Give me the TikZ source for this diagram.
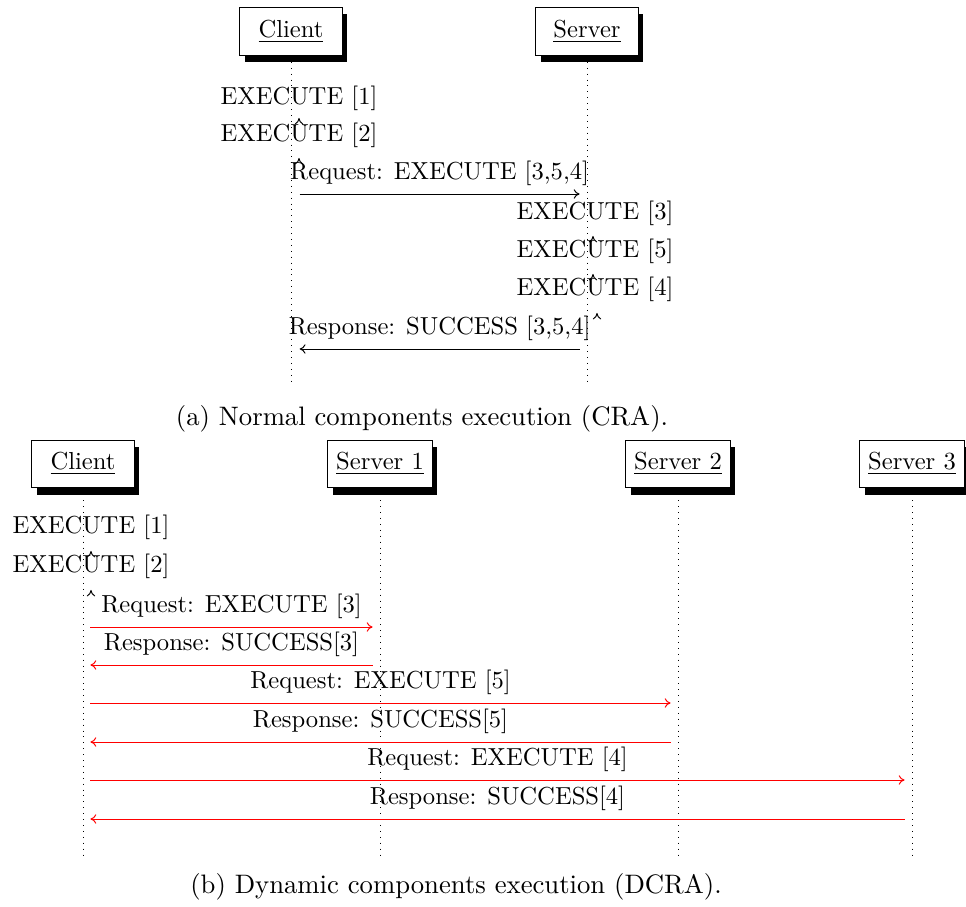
\documentclass[tikz,border=0pt]{standalone}
\usetikzlibrary{shadows,backgrounds,arrows.meta}

\tikzset{
  inst/.style={draw,fill=white,minimum width=41.5pt,minimum height=19.5pt,inner xsep=3.5pt,
    drop shadow={shadow xshift=2pt,shadow yshift=-2.8pt,fill=black,opacity=1}},
  life/.style={dotted},
  msg/.style={-{To[length=2.4pt,width=3.8pt]}},
  rmsg/.style={msg,red},
  tick/.style={-{To[length=2.6pt,width=3.4pt]}},
  captxt/.style={font=\fontsize{10.85}{13}\selectfont}
}

\begin{document}
\begin{tikzpicture}[x=0.4065pt,y=-0.4065pt]
  \useasboundingbox (0,0) rectangle (966,907);
  % (a) client / server
  \node[inst] (cl) at (291,31.5) {\underline{Client}};
  \node[inst] (sv) at (587,31.5) {\underline{Server}};
  \coordinate (clend) at (291,385);
  \coordinate (svend) at (587,385);
  \begin{scope}[on background layer]
    \draw[life] (cl) -- (clend);
    \draw[life] (sv) -- (svend);
  \end{scope}
  \node (ea1) at (299,98) {EXECUTE [1]};
  \node (ea2) at (299,135) {EXECUTE [2]};
  \foreach \y in {118,158} \draw[tick] (299,\y+2) -- (299,\y);
  \draw[msg] ([xshift=3.5pt]cl |- 0,194) -- node[above] (reqa) {Request: EXECUTE [3,5,4]} ([xshift=-3pt]sv |- 0,194);
  \node (ea3) at (595,213) {EXECUTE [3]};
  \node (ea5) at (595,251) {EXECUTE [5]};
  \node (ea4) at (595,289) {EXECUTE [4]};
  \foreach \x/\y in {593/236,593/274,597/313} \draw[tick] (\x,\y+2) -- (\x,\y);
  \draw[msg] ([xshift=-3pt]sv |- 0,349) -- node[above] (resa) {Response: SUCCESS [3,5,4]} ([xshift=3.5pt]cl |- 0,349);
  \node[captxt] (capa) at (422,419) {(a) Normal components execution (CRA).};

  % (b) client / three servers
  \node[inst] (clb) at (83,464) {\underline{Client}};
  \node[inst] (s1) at (380,464) {\underline{Server 1}};
  \node[inst] (s2) at (678,464) {\underline{Server 2}};
  \node[inst] (s3) at (912,464) {\underline{Server 3}};
  \foreach \n in {clb,s1,s2,s3}
    \coordinate (\n end) at (\n |- 0,855);
  \begin{scope}[on background layer]
    \foreach \n in {clb,s1,s2,s3}
      \draw[life] (\n) -- (\n end);
  \end{scope}
  \node (eb1) at (91,527) {EXECUTE [1]};
  \node (eb2) at (91,566) {EXECUTE [2]};
  \foreach \y in {551,590} \draw[tick] (91,\y+2) -- (91,\y);
  \foreach \s/\k/\yq/\yr in {s1/3/627/665,s2/5/703/742,s3/4/780/819} {
    \draw[rmsg] ([xshift=3pt]clb |- 0,\yq) -- node[above,text=black] {Request: EXECUTE [\k]} ([xshift=-3pt]\s |- 0,\yq);
    \draw[rmsg] ([xshift=-3pt]\s |- 0,\yr) -- node[above,text=black] {Response: SUCCESS[\k]} ([xshift=3pt]clb |- 0,\yr);
  }
  \node[captxt] (capb) at (456,887) {(b) Dynamic components execution (DCRA).};
\end{tikzpicture}
\end{document}
